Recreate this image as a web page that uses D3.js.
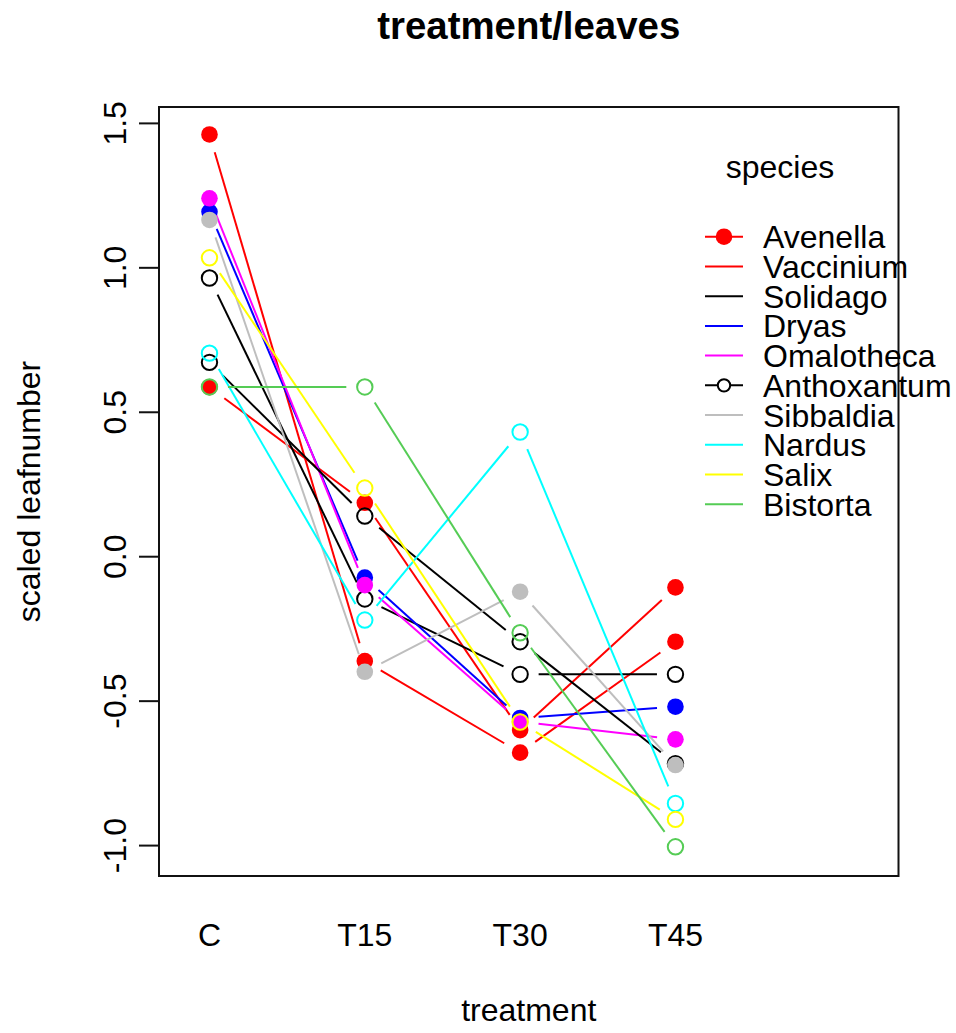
<!DOCTYPE html>
<html>
<head>
<meta charset="utf-8">
<script src="https://cdn.jsdelivr.net/npm/d3@7"></script>
<style>
  html, body { margin: 0; padding: 0; background: #fff; }
  svg text { font-family: "Liberation Sans", Arial, Helvetica, sans-serif; fill: #000; }
</style>
</head>
<body>
<svg id="chart" width="956" height="1033"></svg>
<script>
// Treatment levels along the x axis
const categories = ["C", "T15", "T30", "T45"];

// Species, in plotting order
const species = ["Avenella", "Vaccinium", "Solidago", "Dryas", "Omalotheca",
                 "Anthoxantum", "Sibbaldia", "Nardus", "Salix", "Bistorta"];

// Mean scaled leaf number per species at C, T15, T30, T45
const avenella    = [1.46, -0.363, -0.68, -0.296];
const vaccinium   = [0.585, 0.185, -0.602, -0.108];
const solidago    = [0.963, -0.148, -0.409, -0.409];
const dryas       = [1.192, -0.074, -0.56, -0.521];
const omalotheca  = [1.239, -0.10, -0.573, -0.634];
const anthoxantum = [0.671, 0.139, -0.296, -0.718];
const sibbaldia   = [1.164, -0.40, -0.123, -0.723];
const nardus      = [0.703, -0.221, 0.43, -0.856];
const salix       = [1.033, 0.236, -0.574, -0.911];
const bistorta    = [0.586, 0.586, -0.265, -1.006];

const seriesValues = [avenella, vaccinium, solidago, dryas, omalotheca,
                      anthoxantum, sibbaldia, nardus, salix, bistorta];

// Line / point colour per species
const colors = ["#ff0000", "#ff0000", "#000000", "#0000ff", "#ff00ff",
                "#000000", "#bebebe", "#00ffff", "#ffff00", "#55cc55"];
// Point symbol per species: true = solid disc, false = open circle
const solidPoint = [true, true, false, true, true, false, true, false, false, false];
// Symbol shown in the legend key ("solid", "open" or none)
const legendSymbol = ["solid", null, null, null, null, "open", null, null, null, null];

// Y axis ticks
const yTicks = [-1.0, -0.5, 0.0, 0.5, 1.0, 1.5];
const yTickLabels = ["-1.0", "-0.5", "0.0", "0.5", "1.0", "1.5"];

const title = "treatment/leaves";
const xTitle = "treatment";
const yTitle = "scaled leafnumber";
const legendTitle = "species";

// ---- layout ----
const box = { left: 159, right: 898.5, top: 107, bottom: 876 };
const fontSize = 32;

const svg = d3.select("#chart");

// Category index 1..4 on a numeric axis, with room on the right for the legend
const x = d3.scaleLinear().domain([0.675, 5.436]).range([box.left, box.right]);
const y = d3.scaleLinear().domain([-1.107, 1.555]).range([box.bottom, box.top]);
const xPos = i => x(i + 1);

// Title
svg.append("text")
  .attr("x", (box.left + box.right) / 2)
  .attr("y", 39)
  .attr("text-anchor", "middle")
  .style("font-size", (fontSize * 1.2) + "px")
  .style("font-weight", "bold")
  .text(title);

// Plot frame
svg.append("rect")
  .attr("x", box.left).attr("y", box.top)
  .attr("width", box.right - box.left).attr("height", box.bottom - box.top)
  .attr("fill", "none").attr("stroke", "#111").attr("stroke-width", 2);

// Y axis with rotated labels
const yAxis = d3.axisLeft(y)
  .tickValues(yTicks)
  .tickFormat((d, i) => yTickLabels[i])
  .tickSize(20)
  .tickPadding(0);
const yg = svg.append("g").attr("transform", `translate(${box.left},0)`).call(yAxis);
yg.select(".domain")
  .attr("d", `M0,${y(yTicks[0])}V${y(yTicks[yTicks.length - 1])}`)
  .attr("stroke", "#111").attr("stroke-width", 2);
yg.selectAll(".tick line").attr("stroke", "#111").attr("stroke-width", 2);
yg.selectAll(".tick text")
  .attr("x", null).attr("dy", null)
  .attr("transform", "translate(-33,0) rotate(-90)")
  .attr("text-anchor", "middle")
  .style("font-size", fontSize + "px")
  .style("font-family", "'Liberation Sans', Arial, sans-serif")
  .attr("fill", "#000");

// X category labels (no axis line or ticks)
svg.append("g").selectAll("text")
  .data(categories)
  .join("text")
  .attr("x", (d, i) => xPos(i))
  .attr("y", 946)
  .attr("text-anchor", "middle")
  .style("font-size", fontSize + "px")
  .text(d => d);

// Axis titles
svg.append("text")
  .attr("x", (box.left + box.right) / 2)
  .attr("y", 1021)
  .attr("text-anchor", "middle")
  .style("font-size", fontSize + "px")
  .text(xTitle);

svg.append("text")
  .attr("transform", `translate(40,${(box.top + box.bottom) / 2}) rotate(-90)`)
  .attr("text-anchor", "middle")
  .style("font-size", fontSize + "px")
  .text(yTitle);

// ---- series: segments broken around each point, then the points ----
const gap = 18.5;      // blank distance left around each point
const rSolid = 8.3;
const rOpen = 7.7;

const plot = svg.append("g");
seriesValues.forEach((vals, s) => {
  const g = plot.append("g");
  const pts = vals.map((v, i) => [xPos(i), y(v)]);
  const segs = d3.pairs(pts).map(([a, b]) => {
    const dx = b[0] - a[0], dy = b[1] - a[1];
    const len = Math.hypot(dx, dy);
    if (len <= 2 * gap) return null;
    const ux = dx / len, uy = dy / len;
    return [[a[0] + ux * gap, a[1] + uy * gap], [b[0] - ux * gap, b[1] - uy * gap]];
  }).filter(Boolean);
  g.selectAll("line")
    .data(segs)
    .join("line")
    .attr("x1", d => d[0][0]).attr("y1", d => d[0][1])
    .attr("x2", d => d[1][0]).attr("y2", d => d[1][1])
    .attr("stroke", colors[s]).attr("stroke-width", 2);
  g.selectAll("circle")
    .data(pts)
    .join("circle")
    .attr("cx", d => d[0]).attr("cy", d => d[1])
    .attr("r", solidPoint[s] ? rSolid : rOpen)
    .attr("fill", solidPoint[s] ? colors[s] : "none")
    .attr("stroke", solidPoint[s] ? "none" : colors[s])
    .attr("stroke-width", 2);
});

// ---- legend ----
const legend = svg.append("g");
const lgX0 = 705, lgX1 = 743, lgText = 763, lgY0 = 236.7, lgStep = 29.73;

legend.append("text")
  .attr("x", 780).attr("y", 178)
  .attr("text-anchor", "middle")
  .style("font-size", fontSize + "px")
  .text(legendTitle);

species.forEach((name, i) => {
  const yy = lgY0 + i * lgStep;
  legend.append("line")
    .attr("x1", lgX0).attr("x2", lgX1).attr("y1", yy).attr("y2", yy)
    .attr("stroke", colors[i]).attr("stroke-width", 2);
  if (legendSymbol[i] === "solid") {
    legend.append("circle").attr("cx", (lgX0 + lgX1) / 2).attr("cy", yy)
      .attr("r", rSolid).attr("fill", colors[i]);
  } else if (legendSymbol[i] === "open") {
    legend.append("circle").attr("cx", (lgX0 + lgX1) / 2).attr("cy", yy)
      .attr("r", rOpen - 1.5).attr("fill", "#fff")
      .attr("stroke", colors[i]).attr("stroke-width", 2);
  }
  legend.append("text")
    .attr("x", lgText).attr("y", yy)
    .attr("dy", "0.36em")
    .style("font-size", fontSize + "px")
    .text(name);
});
</script>
</body>
</html>
